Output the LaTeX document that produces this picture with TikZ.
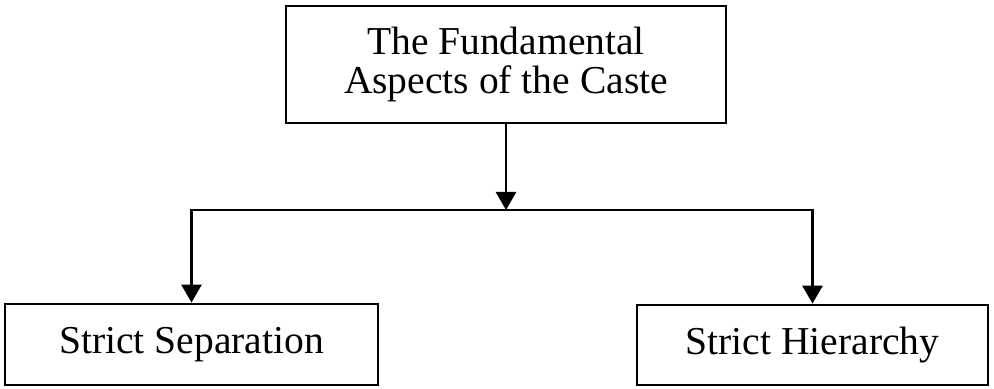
\documentclass[tikz,border=0pt]{standalone}
\usepackage{fontspec}
\setmainfont{Liberation Serif}
\usetikzlibrary{arrows.meta}
\begin{document}
\begin{tikzpicture}[scale=1,
  box/.style={draw,line width=1.6pt,align=center,font=\fontsize{22.5}{22.5}\selectfont},
  link/.style={line width=1.6pt,-{Triangle[length=0.36cm,width=0.4cm]}}]
\useasboundingbox (0,0) rectangle (19.88,7.76);

\node[box,minimum width=8.8cm,minimum height=2.34cm] (aspects) at (10.12,6.47)
      {The Fundamental\\Aspects of the Caste};
\node[box,minimum width=7.46cm,minimum height=1.62cm] (separation) at (3.83,0.87)
      {Strict Separation};
\node[box,minimum width=7.02cm,minimum height=1.6cm] (hierarchy) at (16.25,0.86)
      {Strict Hierarchy};
\coordinate (split) at (10.12,3.56);

\draw[link] (aspects) -- (split);
\draw[link] (split) -| (separation);
\draw[link] (split) -| (hierarchy);
\end{tikzpicture}
\end{document}
